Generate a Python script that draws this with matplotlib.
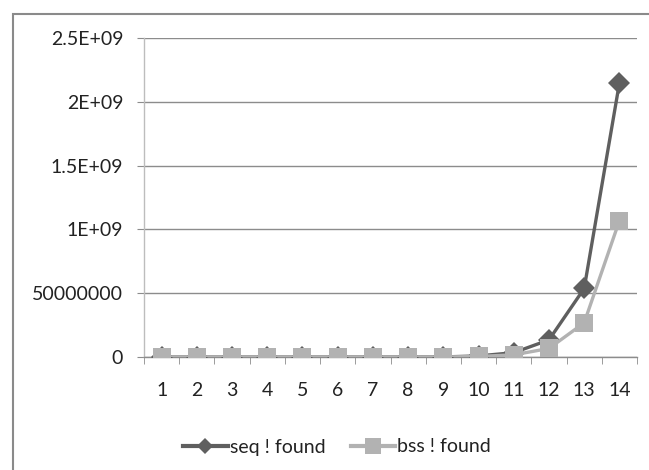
import matplotlib
matplotlib.use("Agg")
import matplotlib.pyplot as plt
from matplotlib.patches import Rectangle
from matplotlib.lines import Line2D

categories = [str(i) for i in range(1, 15)]
seq_found = [0, 0, 0, 0, 0, 0, 0, 0, 5.0e5, 8.4e6, 3.4e7, 1.34e8, 5.37e8, 2.147e9]
bss_found = [0, 0, 0, 0, 0, 0, 0, 0, 2.5e5, 4.2e6, 1.7e7, 6.7e7, 2.68e8, 1.068e9]
ytick_values = [0, 5e8, 1e9, 1.5e9, 2e9, 2.5e9]
ytick_labels = ["0", "50000000", "1E+09", "1.5E+09", "2E+09", "2.5E+09"]

plt.rcParams['font.family'] = ['Lato', 'DejaVu Sans']

W, H = 649, 470
fig = plt.figure(figsize=(W / 100, H / 100), dpi=100)
fig.patch.set_facecolor('white')

# outer chart border (extends past right/bottom edges)
fig.add_artist(Rectangle((13 / W, -0.05), 1.0, (H - 14) / H + 0.05,
                         transform=fig.transFigure, fill=False,
                         edgecolor='#8a8a8a', linewidth=1.5))

ax = fig.add_axes([144 / W, (H - 357) / H, (637 - 144) / W, (357 - 38) / H])
x = list(range(1, len(categories) + 1))

ax.plot(x, seq_found, color='#5f5f5f', linewidth=2.4, marker='D',
        markersize=11, markeredgewidth=0, zorder=3, label='seq ! found')
ax.plot(x, bss_found, color='#b2b2b2', linewidth=2.4, marker='s',
        markersize=13, markeredgewidth=0, zorder=4, label='bss ! found')

ax.set_xlim(0.5, 14.5)
ax.set_ylim(0, 2.5e9)
ax.set_yticks(ytick_values)
ax.set_yticklabels(ytick_labels)
ax.set_xticks(x)
ax.set_xticklabels(categories)
ax.set_xticks([i + 0.5 for i in range(0, 15)], minor=True)

ax.yaxis.grid(True, color='#8c8c8c', linewidth=1.0)
ax.set_axisbelow(True)
for s in ['top', 'right']:
    ax.spines[s].set_visible(False)
ax.spines['left'].set_color('#bdbdbd')
ax.spines['bottom'].set_color('#8c8c8c')
ax.spines['left'].set_linewidth(1.0)
ax.spines['bottom'].set_linewidth(1.0)

ax.tick_params(axis='y', which='major', length=5, color='#8c8c8c',
               labelsize=14, labelcolor='#222222', pad=10)
ax.tick_params(axis='x', which='major', length=0, labelsize=14,
               labelcolor='#222222', pad=18)
ax.tick_params(axis='x', which='minor', length=5, color='#8c8c8c')

handles = [
    Line2D([], [], color='#5f5f5f', linewidth=3, marker='D', markersize=8, markeredgewidth=0),
    Line2D([], [], color='#b2b2b2', linewidth=3, marker='s', markersize=11, markeredgewidth=0),
]
fig.legend(handles, ['seq ! found', 'bss ! found'], loc='center',
           bbox_to_anchor=(337 / W, (H - 447) / H), ncol=2, frameon=False,
           fontsize=14, handlelength=2.3, handletextpad=0.1, columnspacing=1.3,
           labelcolor='#222222')

fig.savefig('out.png', dpi=100, facecolor='white')
